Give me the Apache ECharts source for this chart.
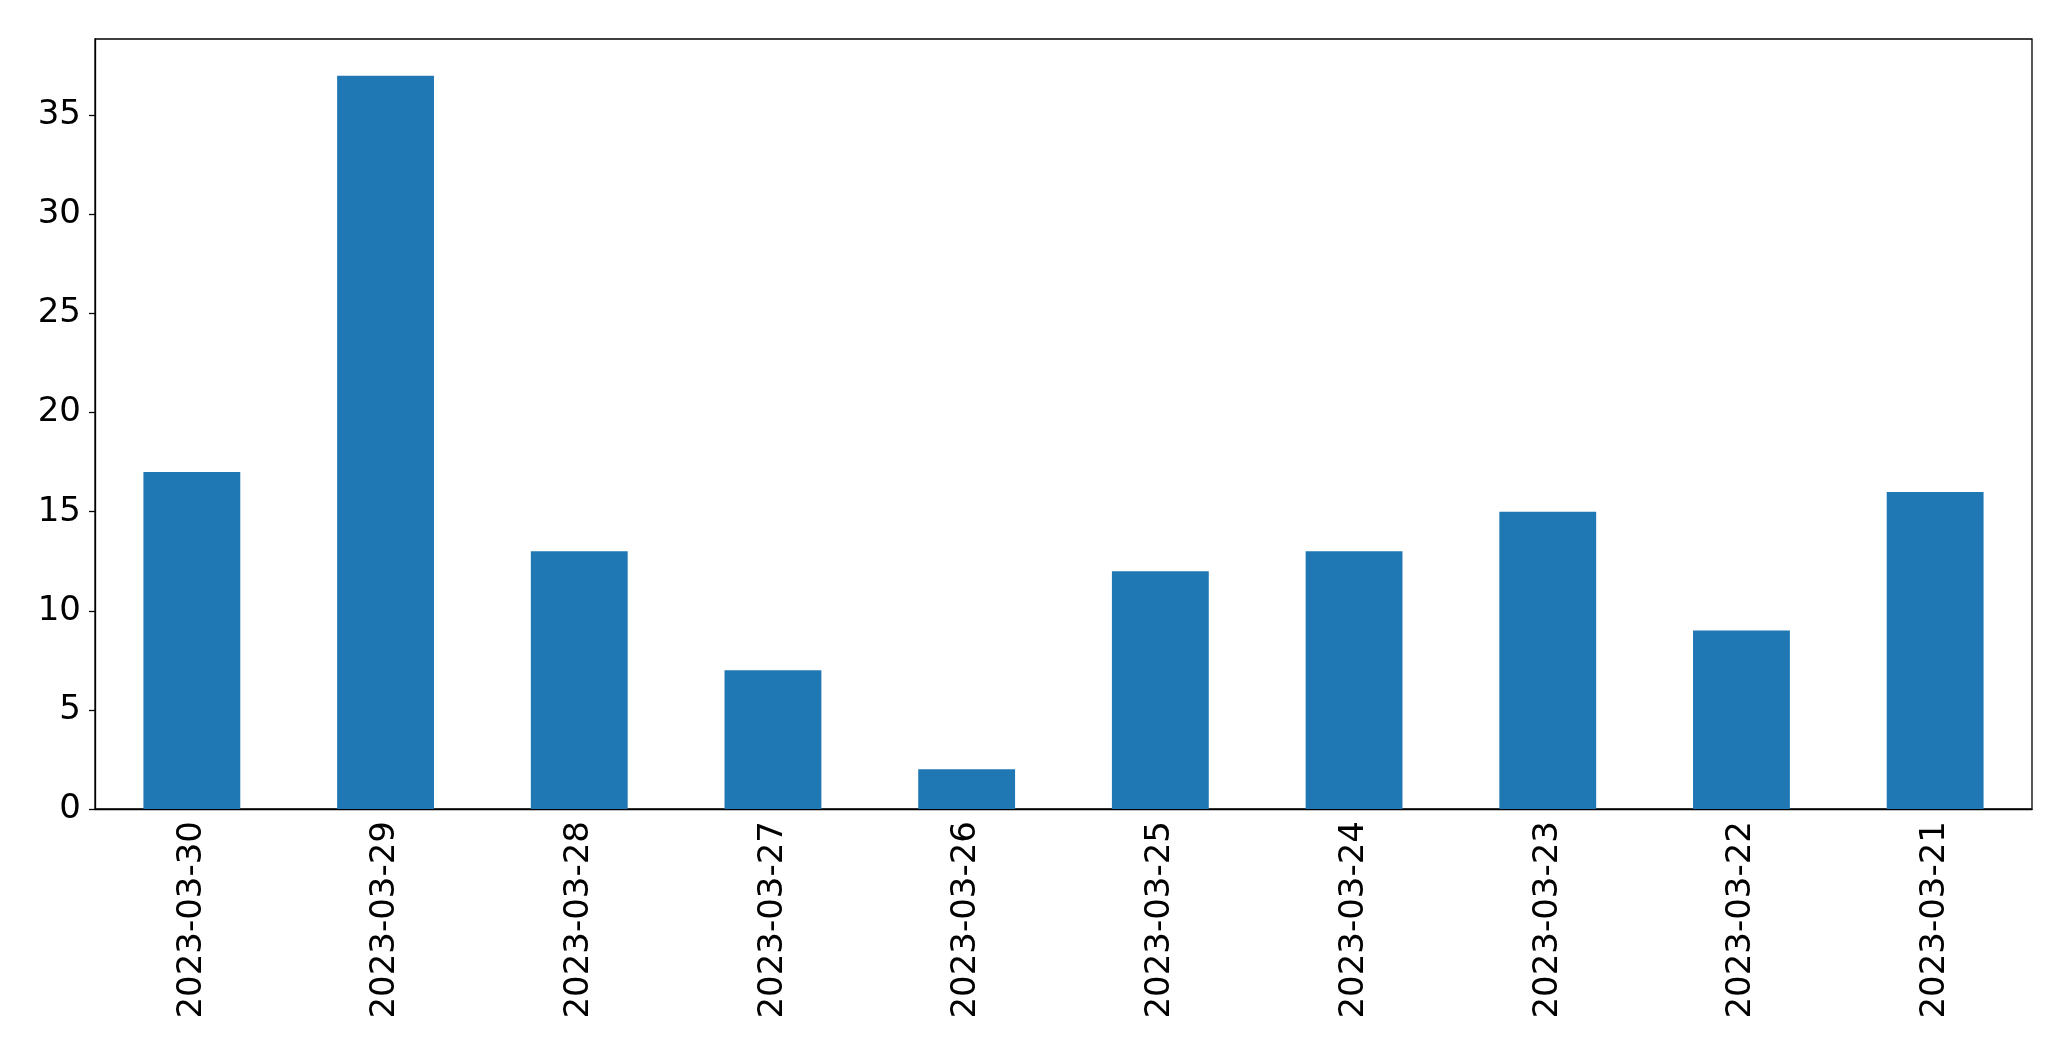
<!DOCTYPE html>
<html>
<head>
<meta charset="utf-8">
<script src="https://cdn.jsdelivr.net/npm/echarts@6/dist/echarts.min.js"></script>
<style>
  html, body { margin: 0; padding: 0; background: #fff; }
  #main { width: 2071px; height: 1061px; }
</style>
</head>
<body>
<div id="main"></div>
<script>
// values
const dates = ["2023-03-30", "2023-03-29", "2023-03-28", "2023-03-27", "2023-03-26",
  "2023-03-25", "2023-03-24", "2023-03-23", "2023-03-22", "2023-03-21"];
const counts = [17, 37, 13, 7, 2, 12, 13, 15, 9, 16];
const yTicks = [0, 5, 10, 15, 20, 25, 30, 35];

let myChart = echarts.init(document.getElementById("main"));
let option = {
  animation: false,
  grid: {
    left: 95,
    right: 39,
    top: 39,
    bottom: 252,
    show: true,
    borderColor: "#000",
    borderWidth: 1.3,
  },
  xAxis: {
    type: "category",
    data: dates,
    axisLine: { lineStyle: { color: "#000", width: 1.3 } },
    axisTick: { alignWithLabel: true, length: 6, lineStyle: { color: "#000", width: 1.3 } },
    axisLabel: {
      rotate: 90,
      margin: 12,
      fontSize: 34,
      fontFamily: "DejaVu Sans",
      color: "#000",
    },
  },
  yAxis: {
    type: "value",
    min: 0,
    max: 38.85,
    splitLine: { show: false },
    axisLine: { show: true, lineStyle: { color: "#000", width: 1.3 } },
    axisTick: {
      show: true,
      length: 6,
      customValues: yTicks,
      lineStyle: { color: "#000", width: 1.3 },
    },
    axisLabel: {
      margin: 14,
      fontSize: 34,
      fontFamily: "DejaVu Sans",
      color: "#000",
      customValues: yTicks,
    },
  },
  series: [
    {
      type: "bar",
      data: counts,
      barWidth: "50%",
      itemStyle: { color: "#1f77b4" },
    },
  ],
};
option && myChart.setOption(option);
</script>
</body>
</html>
